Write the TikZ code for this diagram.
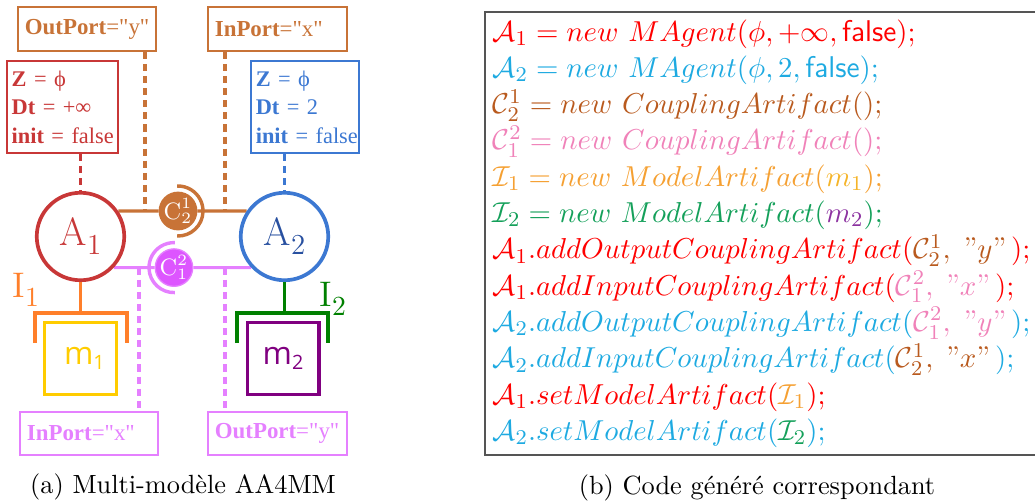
\documentclass[tikz,border=0pt]{standalone}
\usepackage{fontspec}
\usepackage{amsmath}
\newfontfamily\tnr{Liberation Serif}
\newfontfamily\osans{Open Sans}
\usetikzlibrary{calc,backgrounds}
\definecolor{brownC}{RGB}{200,115,55}
\definecolor{redA}{RGB}{200,55,55}
\definecolor{blueA}{RGB}{60,120,210}
\definecolor{blueT}{RGB}{40,80,160}
\definecolor{pinkL}{RGB}{229,128,255}
\definecolor{pinkD}{RGB}{221,85,255}
\definecolor{orangeI}{RGB}{255,127,42}
\definecolor{yellowM}{RGB}{255,204,0}
\definecolor{greenI}{RGB}{0,128,0}
\definecolor{purpleM}{RGB}{128,0,128}
\definecolor{cRed}{RGB}{255,0,0}
\definecolor{cCyan}{RGB}{30,170,225}
\definecolor{cBrown}{RGB}{185,90,30}
\definecolor{cPink}{RGB}{240,130,185}
\definecolor{cOrange}{RGB}{245,160,50}
\definecolor{cYel}{RGB}{245,180,40}
\definecolor{cGreen}{RGB}{20,160,90}
\definecolor{cPurple}{RGB}{140,50,160}
\definecolor{frameG}{RGB}{85,85,85}
\newcommand\qt[1]{\;\text{''}#1\text{''}\,}
\begin{document}
\begin{tikzpicture}[x=0.38pt,y=-0.38pt,
  tbox/.style={draw, line width=0.6pt, inner xsep=2.6pt, inner ysep=0pt, align=left,
    font=\tnr\fontsize{8.7}{10}\selectfont},
  zbox/.style={draw, line width=0.6pt, inner xsep=1.8pt, inner ysep=0pt, align=left,
    minimum height=35pt, font=\tnr\fontsize{8.5}{10.8}\selectfont},
  agent/.style={circle, draw, line width=1.4pt, minimum size=33.25pt, inner sep=0pt, fill=white,
    font=\fontsize{15}{18}\selectfont},
  coup/.style={circle, line width=0.5pt, minimum size=13.9pt, inner sep=0pt, text=white,
    font=\fontsize{9}{10}\selectfont},
  model/.style={draw, line width=1.2pt, minimum size=27.3pt, inner sep=0pt,
    font=\osans\fontsize{12}{14}\selectfont},
  dashline/.style={line width=1.2pt, dash pattern=on 2.7pt off 1.9pt},
  hline/.style={line width=1.15pt},
  brk/.style={line width=1.6pt},
  code/.style={anchor=base west, inner sep=0pt, font=\fontsize{11.4}{14}\selectfont},
  captext/.style={anchor=base, inner sep=0pt, font=\fontsize{10}{12}\selectfont}
]
\useasboundingbox (0,0) rectangle (1035,503);

% --- left diagram: boxes
\node[tbox, draw=brownC, text=brownC, text width=47.2pt, minimum height=16.7pt] (outY) at (87,29) {\mbox{\textbf{OutPort}="y"}};
\node[tbox, draw=brownC, text=brownC, text width=47.6pt, minimum height=16.7pt] (inX) at (277.5,29) {\mbox{\textbf{InPort}="x"}};
\node[zbox, draw=redA, text=redA, text width=38.6pt] (zred) at (62.5,107) {\mbox{\textbf{Z} = ϕ}\\\mbox{\textbf{Dt} = +∞}\\\mbox{\textbf{init} = false}};
\node[zbox, draw=blueA, text=blueA, text width=37.4pt] (zblue) at (305,107) {\mbox{\textbf{Z} = ϕ}\\\mbox{\textbf{Dt} = 2}\\\mbox{\textbf{init} = false}};
\node[tbox, draw=pinkL, text=pinkL, text width=47.2pt, minimum height=16.3pt] (pinIn) at (89,433.5) {\mbox{\textbf{InPort}="x"}};
\node[tbox, draw=pinkL, text=pinkL, text width=47.6pt, minimum height=16.3pt] (pinOut) at (277.5,433.5) {\mbox{\textbf{OutPort}="y"}};

% --- agents
\node[agent, draw=redA, text=redA] (a1) at (80.5,236.5) {A\raisebox{-3.4pt}{\fontsize{11}{12}\selectfont 1}};
\node[agent, draw=blueA, text=blueT] (a2) at (284.5,236.5) {A\raisebox{-3.4pt}{\fontsize{11}{12}\selectfont 2}};

% --- coupling artifacts
\node[coup, fill=brownC, draw=brownC] (c21) at ($(a1.34)!0.465!(a2.146)$) {$\mathrm{C}^1_2$};
\node[coup, fill=pinkD, draw=pinkL] (c12) at ($(a1.-43)!0.438!(a2.-137)$) {$\mathrm{C}^2_1$};
\begin{pgfonlayer}{background}
  \draw[hline, brownC] (a1.34) -- (c21) -- (a2.146);
  \draw[hline, pinkL] (a1.-43) -- (c12) -- (a2.-137);
\end{pgfonlayer}
\draw[brownC, line width=1.3pt] ($(c21)+(92:25)$) arc[start angle=92, end angle=-92, radius=25];
\draw[pinkL, line width=1.3pt] ($(c12)+(88:25)$) arc[start angle=88, end angle=272, radius=25];

% --- dashed links
\coordinate (t1) at (145,0);
\coordinate (t2) at (225,0);
\coordinate (t3) at (139,0);
\coordinate (t4) at (225,0);
\draw[dashline, redA] (zred.south -| a1.north) -- (a1.north);
\draw[dashline, blueA] (zblue.south -| a2.north) -- (a2.north);
\draw[dashline, brownC] (outY.south -| t1) -- (a1.34 -| t1);
\draw[dashline, brownC] (inX.south -| t2) -- (a2.146 -| t2);
\draw[dashline, pinkL] (a1.-43 -| t3) -- (pinIn.north -| t3);
\draw[dashline, pinkL] (a2.-137 -| t4) -- (pinOut.north -| t4);

% --- model artifacts
\coordinate (by) at (0,313);
\node[model, draw=yellowM, text=yellowM] (m1) at (80.5,358.5) {\hspace{3pt}m\raisebox{-1.9pt}{\fontsize{7.5}{8}\selectfont 1}};
\node[model, draw=purpleM, text=purpleM] (m2) at (283,358.5) {m\raisebox{-1.9pt}{\fontsize{7.5}{8}\selectfont 2}};
\draw[orangeI, line width=1.4pt] (a1.south) -- (a1.south |- by);
\draw[brk, orangeI] (35,343) -- (35,313) -- (127,313) -- (127,343);
\draw[greenI, line width=1.4pt] (a2.south) -- (a2.south |- by);
\draw[brk, greenI] (237,343) -- (237,313) -- (328,313) -- (328,343);
\node[anchor=base west, inner sep=0pt, text=orangeI, font=\fontsize{13.5}{16}\selectfont] (i1) at (12,297) {I\raisebox{-3.5pt}{\fontsize{10.5}{12}\selectfont 1}};
\node[anchor=base west, inner sep=0pt, text=greenI, font=\fontsize{13.5}{16}\selectfont] (i2) at (319,306) {I\raisebox{-3.5pt}{\fontsize{10.5}{12}\selectfont 2}};

\node[captext] (capa) at (183,493) {(a) Multi-modèle AA4MM};

% --- code panel
\draw[frameG, line width=0.6pt] (1040,12) -- (485,12) -- (485,455) -- (1040,455);
\node[code, text=cRed] (l1) at (492,41) {$\mathcal{A}_1 = new\ MAgent(\phi, +\infty, \mathsf{false});$};
\node[code, text=cCyan] (l2) at (492,77.3) {$\mathcal{A}_2 = new\ MAgent(\phi, 2, \mathsf{false});$};
\node[code, text=cBrown] (l3) at (492,113.6) {$\mathcal{C}_2^1 = new\ CouplingArtifact();$};
\node[code, text=cPink] (l4) at (492,149.9) {$\mathcal{C}_1^2 = new\ CouplingArtifact();$};
\node[code, text=cOrange] (l5) at (492,186.2) {$\mathcal{I}_1 = new\ ModelArtifact({\color{cYel}m_1});$};
\node[code, text=cGreen] (l6) at (492,222.5) {$\mathcal{I}_2 = new\ ModelArtifact({\color{cPurple}m_2});$};
\node[code, text=cRed] (l7) at (492,258.8) {$\mathcal{A}_1.addOutputCouplingArtifact({\color{cBrown}\mathcal{C}_2^1,\qt{y}});$};
\node[code, text=cRed] (l8) at (492,295.1) {$\mathcal{A}_1.addInputCouplingArtifact({\color{cPink}\mathcal{C}_1^2,\qt{x}});$};
\node[code, text=cCyan] (l9) at (492,331.4) {$\mathcal{A}_2.addOutputCouplingArtifact({\color{cPink}\mathcal{C}_1^2,\qt{y}});$};
\node[code, text=cCyan] (l10) at (492,367.7) {$\mathcal{A}_2.addInputCouplingArtifact({\color{cBrown}\mathcal{C}_2^1,\qt{x}});$};
\node[code, text=cRed] (l11) at (492,404) {$\mathcal{A}_1.setModelArtifact({\color{cOrange}\mathcal{I}_1});$};
\node[code, text=cCyan] (l12) at (492,440.3) {$\mathcal{A}_2.setModelArtifact({\color{cGreen}\mathcal{I}_2});$};

\node[captext] (capb) at (757,494) {(b) Code généré correspondant};
\end{tikzpicture}
\end{document}
